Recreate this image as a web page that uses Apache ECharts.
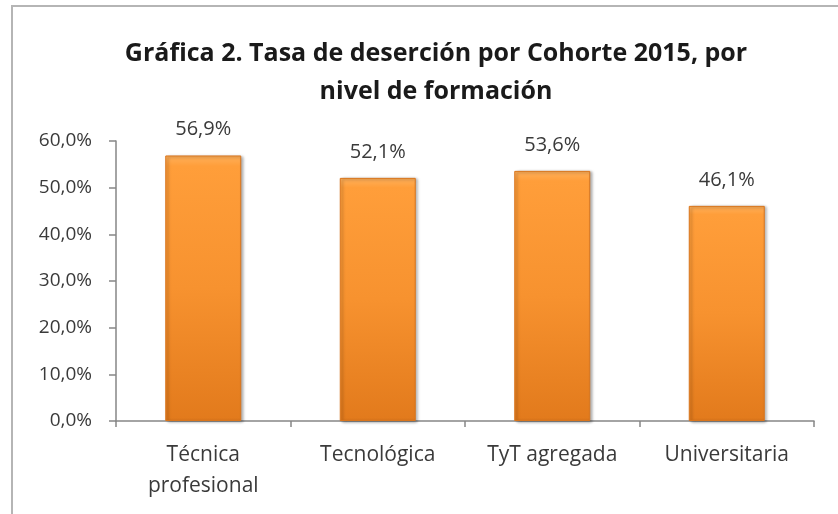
<!DOCTYPE html>
<html>
<head>
<meta charset="utf-8">
<script src="https://cdn.jsdelivr.net/npm/echarts@6/dist/echarts.min.js"></script>
<style>
  html, body { margin: 0; padding: 0; background: #fff; }
  #chart { width: 838px; height: 514px; }
</style>
</head>
<body>
<div id="chart"></div>
<script>
const categories = ['Técnica\nprofesional', 'Tecnológica', 'TyT agregada', 'Universitaria']
const values = [56.9, 52.1, 53.6, 46.1]
const yTicks = [0, 10, 20, 30, 40, 50, 60]

const fmt = (v) => v.toFixed(1).replace('.', ',') + '%'

const chart = echarts.init(document.getElementById('chart'))

const option = {
  animation: false,
  textStyle: { fontFamily: '"Open Sans", sans-serif' },
  title: {
    text: 'Gráfica 2. Tasa de deserción por Cohorte 2015, por\nnivel de formación',
    left: 431,
    top: 30,
    textAlign: 'center',
    textStyle: {
      fontFamily: '"Open Sans", sans-serif',
      fontSize: 25,
      fontWeight: 'bold',
      color: '#1a1a1a',
      lineHeight: 38,
    },
  },
  graphic: [
    {
      type: 'rect',
      shape: { x: 12, y: 6, width: 840, height: 530 },
      style: { fill: 'none', stroke: '#b5b5b5', lineWidth: 2 },
      silent: true,
    },
  ],
  grid: { left: 116, right: 24, top: 141, bottom: 93 },
  xAxis: {
    type: 'category',
    data: categories,
    axisLine: { lineStyle: { color: '#868686', width: 1.5 } },
    axisTick: { show: true, length: 6, alignWithLabel: false, lineStyle: { color: '#868686', width: 1.5 } },
    axisLabel: {
      color: '#3a3a3a',
      fontSize: 21,
      margin: 19,
      lineHeight: 31,
      interval: 0,
    },
  },
  yAxis: {
    type: 'value',
    min: yTicks[0],
    max: yTicks[yTicks.length - 1],
    interval: 10,
    splitLine: { show: false },
    axisLine: { show: true, lineStyle: { color: '#868686', width: 1.5 } },
    axisTick: { show: true, length: 7, lineStyle: { color: '#868686', width: 1.5 } },
    axisLabel: {
      color: '#3a3a3a',
      fontSize: 19,
      margin: 24,
      formatter: (v) => fmt(v),
    },
  },
  series: [
    {
      type: 'bar',
      data: values,
      barWidth: 76,
      itemStyle: {
        color: new echarts.graphic.LinearGradient(0, 0, 0, 1, [
          { offset: 0, color: '#ffb15c' },
          { offset: 0.04, color: '#ff9e3a' },
          { offset: 0.5, color: '#f7922f' },
          { offset: 1, color: '#e27a1c' },
        ]),
        borderColor: '#d9751c',
        borderWidth: 1,
        shadowColor: 'rgba(0,0,0,0.35)',
        shadowBlur: 3,
        shadowOffsetX: 2,
        shadowOffsetY: 1,
      },
      label: {
        show: true,
        position: 'top',
        distance: 16,
        color: '#3a3a3a',
        fontSize: 20,
        formatter: (p) => fmt(p.value),
      },
    },
  ],
}

chart.setOption(option)
</script>
</body>
</html>
